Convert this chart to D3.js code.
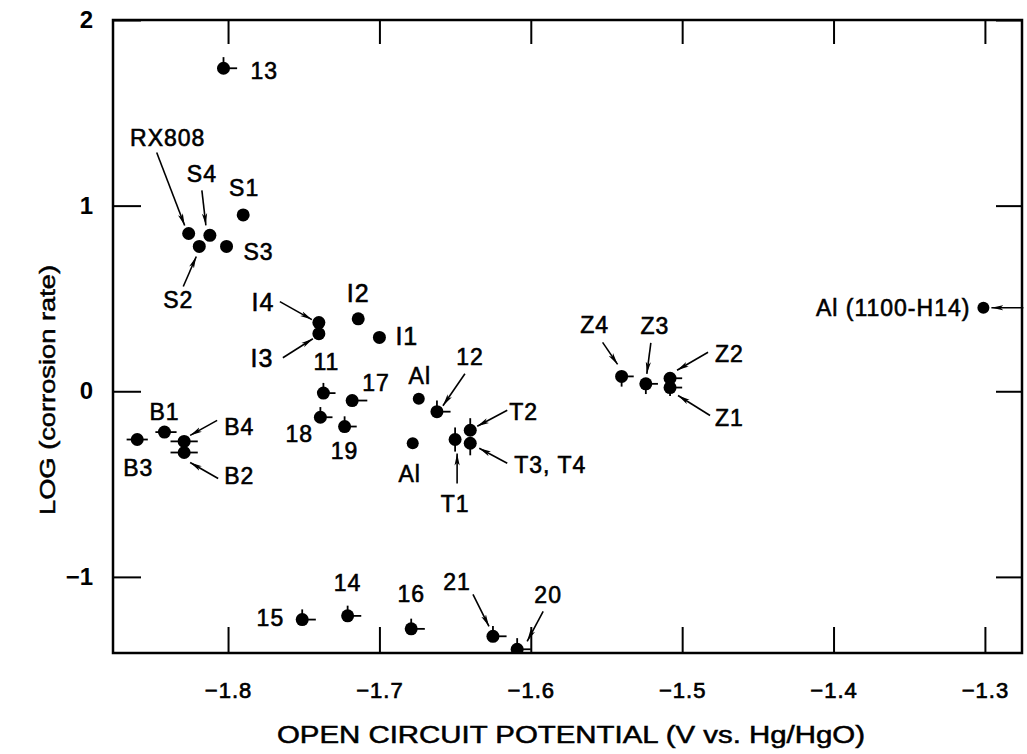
<!DOCTYPE html>
<html>
<head>
<meta charset="utf-8">
<script src="https://cdn.jsdelivr.net/npm/d3@7"></script>
<style>
  body { margin: 0; background: #fff; }
  text { font-family: "Liberation Sans", Arial, sans-serif; fill: #000; }
</style>
</head>
<body>
<svg id="chart" width="1027" height="754"></svg>
<script>
// sample names, open circuit potential (V vs Hg/HgO), log corrosion rate
var names = ["13", "RX808", "S4", "S1", "S2", "S3", "I4", "I3", "I2", "I1",
  "11", "17", "18", "19", "Al", "Al", "12", "T1", "T2", "T3, T4",
  "B3", "B1", "B4", "B2", "Z4", "Z3", "Z2", "Z1", "Al (1100-H14)",
  "15", "14", "16", "21", "20"];
var potential = [-1.803, -1.826, -1.812, -1.790, -1.819, -1.801, -1.740, -1.740, -1.714, -1.700,
  -1.737, -1.718, -1.739, -1.723, -1.674, -1.678, -1.662, -1.650, -1.640, -1.640,
  -1.860, -1.842, -1.829, -1.829, -1.540, -1.524, -1.508, -1.508, -1.301,
  -1.751, -1.721, -1.679, -1.625, -1.609];
var logRate = [1.74, 0.85, 0.84, 0.95, 0.78, 0.78, 0.37, 0.31, 0.39, 0.29,
  -0.01, -0.05, -0.14, -0.19, -0.04, -0.28, -0.11, -0.26, -0.21, -0.28,
  -0.26, -0.22, -0.27, -0.33, 0.08, 0.04, 0.07, 0.02, 0.45,
  -1.23, -1.21, -1.28, -1.32, -1.39];
// one-sided error bars: up/down in log units, left/right in volts
var errUp = [0.06, 0, 0, 0, 0, 0, 0, 0, 0, 0,
  0.055, 0, 0.055, 0.055, 0, 0, 0.06, 0.065, 0.065, 0,
  0, 0, 0, 0, 0, 0, 0.03, 0, 0,
  0.055, 0.055, 0.055, 0.055, 0.06];
var errDown = [0, 0, 0, 0, 0, 0, 0, 0, 0, 0,
  0, 0, 0, 0, 0, 0, 0, 0.065, 0, 0.065,
  0, 0, 0, 0, 0.055, 0.055, 0, 0.045, 0,
  0, 0, 0, 0, 0];
var errLeft = [0, 0, 0, 0, 0, 0, 0, 0, 0, 0,
  0, 0, 0, 0, 0, 0, 0, 0, 0, 0,
  0.007, 0.006, 0.009, 0.009, 0, 0, 0, 0, 0,
  0, 0, 0, 0, 0];
var errRight = [0.009, 0, 0, 0, 0, 0, 0, 0, 0, 0,
  0.008, 0.01, 0.008, 0.008, 0, 0, 0.009, 0, 0, 0,
  0.007, 0.008, 0.009, 0.009, 0.008, 0.008, 0.008, 0.008, 0,
  0.009, 0.009, 0.009, 0.009, 0.009];
var xTicks = [-1.8, -1.7, -1.6, -1.5, -1.4, -1.3];
var yTicks = [-1, 0, 1, 2];

// label placement relative to each point: [dx, dy, anchor, arrow x1, y1, x2, y2]
var labelPos = [
  [27, 2, "start"], [-21, -96, "middle", -32, -81, -4, -8], [-8, -62, "middle", -8, -45, -4, -10],
  [1, -27, "middle"], [-21, 53, "middle", -16, 40, -3, 10], [17, 5, "start"],
  [-56, -21, "middle", -39, -21, -7, -3], [-57, 24, "middle", -36, 24, -6, 5],
  [0, -26, "middle"], [16, -1, "start"],
  [3, -31, "middle"], [10, -18, "start"], [-21, 16, "middle"], [0, 24, "middle"],
  [1, -23, "middle"], [-3, 30, "middle"], [33, -55, "middle", 28, -38, 6, -6],
  [0, 64, "middle", 2, 44, 2, 14], [39, -19, "start", 37, -20, 7, -4],
  [44, 21, "start", 37, 20, 9, 5],
  [1, 28, "middle"], [0, -20, "middle"], [40, -15, "start", 33, -21, 6, -6],
  [40, 23, "start", 34, 26, 6, 10],
  [-27, -52, "middle", -19, -34, -4, -12], [9, -58, "middle", 5, -41, 1, -10],
  [45, -25, "start", 38, -26, 7, -8], [45, 30, "start", 40, 28, 8, 8],
  [-13, 0, "end", 40, 0, 8, 0],
  [-18, -2, "end"], [0, -33, "middle"], [0, -35, "middle"],
  [-36, -55, "middle", -20, -42, -4, -10], [31, -55, "middle", 26, -38, 10, -8]
];

var pts = names.map(function (n, i) {
  return { name: n, x: potential[i], y: logRate[i], up: errUp[i], down: errDown[i],
    left: errLeft[i], right: errRight[i], lab: labelPos[i] };
});

var mLeft = 113, mRight = 1022, mTop = 20, mBottom = 653;
var svg = d3.select("#chart");

var x = d3.scaleLinear().domain([-1.876, -1.2755]).range([mLeft, mRight]);
var y = d3.scaleLinear().domain([-1.41, 2]).range([mBottom, mTop]);

var fmt = function (d) { return d3.format(".1f")(d).replace("-", "\u2212"); };

var defs = svg.append("defs");
defs.append("marker")
  .attr("id", "arrow")
  .attr("markerUnits", "userSpaceOnUse")
  .attr("viewBox", "0 -3 12 6")
  .attr("refX", 12).attr("refY", 0)
  .attr("markerWidth", 12).attr("markerHeight", 6)
  .attr("orient", "auto")
  .append("path").attr("d", "M0,-2.6L12,0L0,2.6L3,0Z").attr("fill", "#000");

defs.append("clipPath").attr("id", "plotclip")
  .append("rect").attr("x", mLeft).attr("y", mTop).attr("width", mRight - mLeft).attr("height", mBottom - mTop);

// axes with inward ticks on all four sides
var gx = svg.append("g").attr("transform", "translate(0," + mBottom + ")")
  .call(d3.axisBottom(x).tickValues(xTicks).tickSize(-26).tickPadding(29).tickFormat(fmt));
svg.append("g").attr("transform", "translate(0," + mTop + ")")
  .call(d3.axisTop(x).tickValues(xTicks).tickSize(-24).tickFormat(""));
var gy = svg.append("g").attr("transform", "translate(" + mLeft + ",0)")
  .call(d3.axisLeft(y).tickValues(yTicks).tickSize(-28).tickPadding(20)
    .tickFormat(function (d) { return String(d).replace("-", "\u2212"); }));
svg.append("g").attr("transform", "translate(" + mRight + ",0)")
  .call(d3.axisRight(y).tickValues(yTicks).tickSize(-26).tickFormat(""));

svg.selectAll(".domain").remove();
svg.selectAll(".tick line").attr("stroke", "#000").attr("stroke-width", 2);
gx.selectAll("text").attr("font-size", 22).attr("letter-spacing", 1)
  .attr("stroke", "#000").attr("stroke-width", 0.7);
gy.selectAll("text").attr("font-size", 24).attr("font-weight", "bold");

svg.append("rect")
  .attr("x", mLeft).attr("y", mTop).attr("width", mRight - mLeft).attr("height", mBottom - mTop)
  .attr("fill", "none").attr("stroke", "#000").attr("stroke-width", 2.5);

svg.append("text")
  .attr("x", 571).attr("y", 743)
  .attr("text-anchor", "middle").attr("font-size", 23)
  .attr("stroke", "#000").attr("stroke-width", 0.5)
  .attr("textLength", 588).attr("lengthAdjust", "spacingAndGlyphs")
  .text("OPEN CIRCUIT POTENTIAL (V vs. Hg/HgO)");

svg.append("text")
  .attr("transform", "translate(55,390) rotate(-90)")
  .attr("text-anchor", "middle").attr("font-size", 22)
  .attr("stroke", "#000").attr("stroke-width", 0.5)
  .attr("textLength", 250).attr("lengthAdjust", "spacingAndGlyphs")
  .text("LOG (corrosion rate)");

var plot = svg.append("g").attr("clip-path", "url(#plotclip)");

// error bars
var bars = plot.append("g").attr("stroke", "#000").attr("stroke-width", 1.8);
pts.forEach(function (d) {
  var cx = x(d.x), cy = y(d.y);
  if (d.up) bars.append("line").attr("x1", cx).attr("x2", cx).attr("y1", cy).attr("y2", y(d.y + d.up));
  if (d.down) bars.append("line").attr("x1", cx).attr("x2", cx).attr("y1", cy).attr("y2", y(d.y - d.down));
  if (d.left) bars.append("line").attr("y1", cy).attr("y2", cy).attr("x1", cx).attr("x2", x(d.x - d.left));
  if (d.right) bars.append("line").attr("y1", cy).attr("y2", cy).attr("x1", cx).attr("x2", x(d.x + d.right));
});

plot.append("g").selectAll("circle")
  .data(pts)
  .join("circle")
  .attr("cx", function (d) { return x(d.x); })
  .attr("cy", function (d) { return y(d.y); })
  .attr("r", function (d) { return d.name.indexOf("Al") === 0 ? 6 : 6.5; })
  .attr("fill", "#000");

// arrows and labels
var ann = svg.append("g");
pts.forEach(function (d) {
  var cx = x(d.x), cy = y(d.y), l = d.lab;
  if (l.length > 3) {
    ann.append("line")
      .attr("x1", cx + l[3]).attr("y1", cy + l[4])
      .attr("x2", cx + l[5]).attr("y2", cy + l[6])
      .attr("stroke", "#000").attr("stroke-width", 1.6)
      .attr("marker-end", "url(#arrow)");
  }
  var isI = /^I\d/.test(d.name);
  var t = ann.append("text")
    .attr("x", cx + l[0]).attr("y", cy + l[1])
    .attr("dy", "0.36em")
    .attr("text-anchor", l[2])
    .attr("font-size", 23)
    .attr("letter-spacing", 1)
    .attr("stroke", "#000").attr("stroke-width", 0.6)
    .text(d.name);
  if (isI) t.attr("font-family", "'Liberation Serif', 'DejaVu Serif', serif").attr("font-size", 25);
});
</script>
</body>
</html>
